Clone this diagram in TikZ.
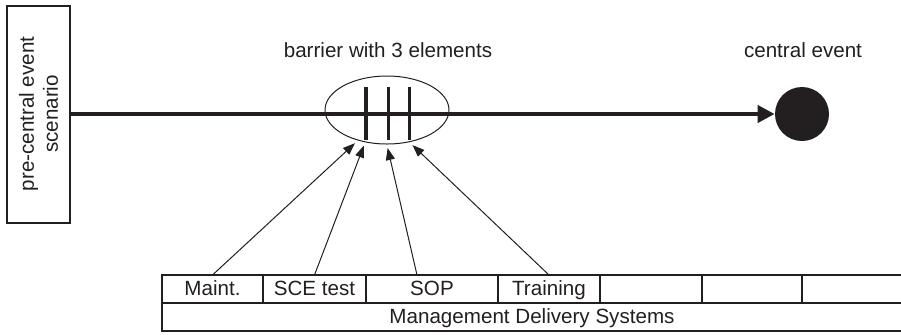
\documentclass[tikz,border=0pt]{standalone}
\usepackage{fontspec}
\setmainfont{Liberation Sans}
\usepackage{tikz}
\usetikzlibrary{shapes.geometric,arrows.meta}
\usetikzlibrary{positioning}
\definecolor{ink}{HTML}{231F20}

\begin{document}
\begin{tikzpicture}[x=0.5pt, y=-0.5pt, >={Triangle[length=6pt,width=4.5pt]},
		every node/.style={text=ink, font=\fontsize{10.3}{12}\selectfont},
		cell/.style={draw=ink, line width=1.4pt, minimum height=14pt, text height=1.6ex, text depth=0.4ex, inner sep=0pt, outer sep=0pt}]
			\useasboundingbox (0,0) rectangle (901,334);
			\node[draw=ink, line width=1pt, rotate=90, minimum width=108.5pt, minimum height=31.5pt, inner sep=0pt, align=center] (Scen) at (38.5,114) {pre-central event\\scenario};
			\node[draw=ink, ellipse, line width=0.5pt, minimum width=62pt, minimum height=34pt, inner sep=0pt, outer sep=2pt] (Barrier) at (387,110) {};
			\node[circle, fill=ink, minimum size=27pt, inner sep=0pt] (Event) at (802,114) {};
			\node (BarLabel) at (388,50) {barrier with 3 elements};
			\node (EvLabel) at (803,50) {central event};
			\draw[ink, line width=2pt, -{Triangle[length=8.5pt,width=8.5pt]}] (Scen.south) -- (Event);
			% the three elements
			\draw[ink, line width=2pt] (366,87) -- (366,140);
			\draw[ink, line width=1.5pt] (388,87) -- (388,140);
			\draw[ink, line width=1.5pt] (409,87) -- (409,140);
			% management delivery systems
			\node[cell, minimum width=50.5pt] (Maint) at (212.5,289) {Maint.};
			\node[cell, minimum width=51.5pt, right=0pt of Maint] (SCE) {SCE test};
			\node[cell, minimum width=66pt, right=0pt of SCE] (SOP) {SOP};
			\node[cell, minimum width=51pt, right=0pt of SOP] (Training) {Training};
			\node[cell, minimum width=51pt, right=0pt of Training] (BlankA) {};
			\node[cell, minimum width=50pt, right=0pt of BlankA] (BlankB) {};
			\node[cell, minimum width=50pt, right=0pt of BlankB] (BlankC) {};
			\node[cell, minimum width=370pt, anchor=north west] (MDS) at (Maint.south west) {Management Delivery Systems};
			\draw[ink, line width=0.5pt, ->] (Maint.north) -- (Barrier.226);
			\draw[ink, line width=0.5pt, ->] (SCE.north) -- (Barrier.237);
			\draw[ink, line width=0.5pt, ->] ([xshift=-7.5pt]SOP.north) -- (Barrier.271);
			\draw[ink, line width=0.5pt, ->] (Training.north) -- (Barrier.306);
		\end{tikzpicture}
\end{document}
